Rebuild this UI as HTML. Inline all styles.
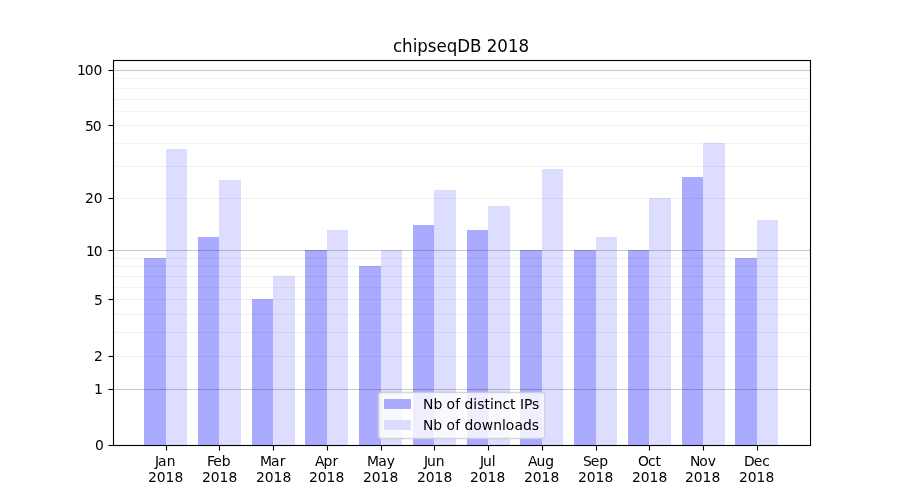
<!DOCTYPE html>
<html lang="en">
<head>
<meta charset="utf-8">
<title>chipseqDB 2018</title>
<style>
html,body{margin:0;padding:0;background:#fff;}
body{width:900px;height:500px;overflow:hidden;}
svg{display:block;}
text{font-family:"DejaVu Sans","Liberation Sans",sans-serif;font-size:13.889px;fill:#000;}
.t{font-size:16.667px;}
.c{text-anchor:middle;}
.r{text-anchor:end;}
</style>
</head>
<body>
<svg width="900" height="500" viewBox="0 0 900 500">
<rect x="0" y="0" width="900" height="500" fill="#ffffff"/>
<g shape-rendering="crispEdges">
<g fill="#0000ff" fill-opacity="0.3333">
<rect x="144" y="258" width="22" height="187"/>
<rect x="198" y="237" width="21" height="208"/>
<rect x="252" y="299" width="21" height="146"/>
<rect x="305" y="250" width="22" height="195"/>
<rect x="359" y="266" width="22" height="179"/>
<rect x="413" y="225" width="21" height="220"/>
<rect x="467" y="230" width="21" height="215"/>
<rect x="520" y="250" width="22" height="195"/>
<rect x="574" y="250" width="22" height="195"/>
<rect x="628" y="250" width="21" height="195"/>
<rect x="682" y="177" width="21" height="268"/>
<rect x="735" y="258" width="22" height="187"/>
</g>
<g fill="#0000ff" fill-opacity="0.1333">
<rect x="166" y="149" width="21" height="296"/>
<rect x="219" y="180" width="22" height="265"/>
<rect x="273" y="276" width="22" height="169"/>
<rect x="327" y="230" width="21" height="215"/>
<rect x="381" y="250" width="21" height="195"/>
<rect x="434" y="190" width="22" height="255"/>
<rect x="488" y="206" width="22" height="239"/>
<rect x="542" y="169" width="21" height="276"/>
<rect x="596" y="237" width="21" height="208"/>
<rect x="649" y="198" width="22" height="247"/>
<rect x="703" y="143" width="22" height="302"/>
<rect x="757" y="220" width="21" height="225"/>
</g>
<g fill="#000000">
<rect x="114" y="69" width="696" height="1" fill-opacity="0.012"/>
<rect x="114" y="70" width="696" height="1" fill-opacity="0.2"/>
<rect x="114" y="71" width="696" height="1" fill-opacity="0.012"/>
<rect x="114" y="78" width="696" height="1" fill-opacity="0.05"/>
<rect x="114" y="77" width="696" height="1" fill-opacity="0.003"/>
<rect x="114" y="79" width="696" height="1" fill-opacity="0.003"/>
<rect x="114" y="88" width="696" height="1" fill-opacity="0.05"/>
<rect x="114" y="87" width="696" height="1" fill-opacity="0.003"/>
<rect x="114" y="89" width="696" height="1" fill-opacity="0.003"/>
<rect x="114" y="99" width="696" height="1" fill-opacity="0.05"/>
<rect x="114" y="98" width="696" height="1" fill-opacity="0.003"/>
<rect x="114" y="100" width="696" height="1" fill-opacity="0.003"/>
<rect x="114" y="111" width="696" height="1" fill-opacity="0.05"/>
<rect x="114" y="110" width="696" height="1" fill-opacity="0.003"/>
<rect x="114" y="112" width="696" height="1" fill-opacity="0.003"/>
<rect x="114" y="125" width="696" height="1" fill-opacity="0.05"/>
<rect x="114" y="124" width="696" height="1" fill-opacity="0.003"/>
<rect x="114" y="126" width="696" height="1" fill-opacity="0.003"/>
<rect x="114" y="143" width="696" height="1" fill-opacity="0.05"/>
<rect x="114" y="142" width="696" height="1" fill-opacity="0.003"/>
<rect x="114" y="144" width="696" height="1" fill-opacity="0.003"/>
<rect x="114" y="166" width="696" height="1" fill-opacity="0.05"/>
<rect x="114" y="165" width="696" height="1" fill-opacity="0.003"/>
<rect x="114" y="167" width="696" height="1" fill-opacity="0.003"/>
<rect x="114" y="198" width="696" height="1" fill-opacity="0.05"/>
<rect x="114" y="197" width="696" height="1" fill-opacity="0.003"/>
<rect x="114" y="199" width="696" height="1" fill-opacity="0.003"/>
<rect x="114" y="249" width="696" height="1" fill-opacity="0.012"/>
<rect x="114" y="250" width="696" height="1" fill-opacity="0.2"/>
<rect x="114" y="251" width="696" height="1" fill-opacity="0.012"/>
<rect x="114" y="258" width="696" height="1" fill-opacity="0.05"/>
<rect x="114" y="257" width="696" height="1" fill-opacity="0.003"/>
<rect x="114" y="259" width="696" height="1" fill-opacity="0.003"/>
<rect x="114" y="266" width="696" height="1" fill-opacity="0.05"/>
<rect x="114" y="265" width="696" height="1" fill-opacity="0.003"/>
<rect x="114" y="267" width="696" height="1" fill-opacity="0.003"/>
<rect x="114" y="276" width="696" height="1" fill-opacity="0.05"/>
<rect x="114" y="275" width="696" height="1" fill-opacity="0.003"/>
<rect x="114" y="277" width="696" height="1" fill-opacity="0.003"/>
<rect x="114" y="287" width="696" height="1" fill-opacity="0.05"/>
<rect x="114" y="286" width="696" height="1" fill-opacity="0.003"/>
<rect x="114" y="288" width="696" height="1" fill-opacity="0.003"/>
<rect x="114" y="299" width="696" height="1" fill-opacity="0.05"/>
<rect x="114" y="298" width="696" height="1" fill-opacity="0.003"/>
<rect x="114" y="300" width="696" height="1" fill-opacity="0.003"/>
<rect x="114" y="314" width="696" height="1" fill-opacity="0.05"/>
<rect x="114" y="313" width="696" height="1" fill-opacity="0.003"/>
<rect x="114" y="315" width="696" height="1" fill-opacity="0.003"/>
<rect x="114" y="332" width="696" height="1" fill-opacity="0.05"/>
<rect x="114" y="331" width="696" height="1" fill-opacity="0.003"/>
<rect x="114" y="333" width="696" height="1" fill-opacity="0.003"/>
<rect x="114" y="356" width="696" height="1" fill-opacity="0.05"/>
<rect x="114" y="355" width="696" height="1" fill-opacity="0.003"/>
<rect x="114" y="357" width="696" height="1" fill-opacity="0.003"/>
<rect x="114" y="388" width="696" height="1" fill-opacity="0.012"/>
<rect x="114" y="389" width="696" height="1" fill-opacity="0.2"/>
<rect x="114" y="390" width="696" height="1" fill-opacity="0.012"/>
</g>
<g fill="#000000">
<rect x="109" y="445" width="4" height="1"/>
<rect x="108" y="445" width="1" height="1" fill-opacity="0.5"/>
<rect x="109" y="444" width="4" height="1" fill-opacity="0.055"/>
<rect x="109" y="446" width="4" height="1" fill-opacity="0.055"/>
<rect x="108" y="444" width="1" height="1" fill-opacity="0.027"/>
<rect x="108" y="446" width="1" height="1" fill-opacity="0.027"/>
<rect x="109" y="389" width="4" height="1"/>
<rect x="108" y="389" width="1" height="1" fill-opacity="0.5"/>
<rect x="109" y="388" width="4" height="1" fill-opacity="0.055"/>
<rect x="109" y="390" width="4" height="1" fill-opacity="0.055"/>
<rect x="108" y="388" width="1" height="1" fill-opacity="0.027"/>
<rect x="108" y="390" width="1" height="1" fill-opacity="0.027"/>
<rect x="109" y="356" width="4" height="1"/>
<rect x="108" y="356" width="1" height="1" fill-opacity="0.5"/>
<rect x="109" y="355" width="4" height="1" fill-opacity="0.055"/>
<rect x="109" y="357" width="4" height="1" fill-opacity="0.055"/>
<rect x="108" y="355" width="1" height="1" fill-opacity="0.027"/>
<rect x="108" y="357" width="1" height="1" fill-opacity="0.027"/>
<rect x="109" y="299" width="4" height="1"/>
<rect x="108" y="299" width="1" height="1" fill-opacity="0.5"/>
<rect x="109" y="298" width="4" height="1" fill-opacity="0.055"/>
<rect x="109" y="300" width="4" height="1" fill-opacity="0.055"/>
<rect x="108" y="298" width="1" height="1" fill-opacity="0.027"/>
<rect x="108" y="300" width="1" height="1" fill-opacity="0.027"/>
<rect x="109" y="250" width="4" height="1"/>
<rect x="108" y="250" width="1" height="1" fill-opacity="0.5"/>
<rect x="109" y="249" width="4" height="1" fill-opacity="0.055"/>
<rect x="109" y="251" width="4" height="1" fill-opacity="0.055"/>
<rect x="108" y="249" width="1" height="1" fill-opacity="0.027"/>
<rect x="108" y="251" width="1" height="1" fill-opacity="0.027"/>
<rect x="109" y="198" width="4" height="1"/>
<rect x="108" y="198" width="1" height="1" fill-opacity="0.5"/>
<rect x="109" y="197" width="4" height="1" fill-opacity="0.055"/>
<rect x="109" y="199" width="4" height="1" fill-opacity="0.055"/>
<rect x="108" y="197" width="1" height="1" fill-opacity="0.027"/>
<rect x="108" y="199" width="1" height="1" fill-opacity="0.027"/>
<rect x="109" y="125" width="4" height="1"/>
<rect x="108" y="125" width="1" height="1" fill-opacity="0.5"/>
<rect x="109" y="124" width="4" height="1" fill-opacity="0.055"/>
<rect x="109" y="126" width="4" height="1" fill-opacity="0.055"/>
<rect x="108" y="124" width="1" height="1" fill-opacity="0.027"/>
<rect x="108" y="126" width="1" height="1" fill-opacity="0.027"/>
<rect x="109" y="70" width="4" height="1"/>
<rect x="108" y="70" width="1" height="1" fill-opacity="0.5"/>
<rect x="109" y="69" width="4" height="1" fill-opacity="0.055"/>
<rect x="109" y="71" width="4" height="1" fill-opacity="0.055"/>
<rect x="108" y="69" width="1" height="1" fill-opacity="0.027"/>
<rect x="108" y="71" width="1" height="1" fill-opacity="0.027"/>
<rect x="166" y="446" width="1" height="4"/>
<rect x="166" y="450" width="1" height="1" fill-opacity="0.5"/>
<rect x="165" y="446" width="1" height="4" fill-opacity="0.055"/>
<rect x="167" y="446" width="1" height="4" fill-opacity="0.055"/>
<rect x="165" y="450" width="1" height="1" fill-opacity="0.027"/>
<rect x="167" y="450" width="1" height="1" fill-opacity="0.027"/>
<rect x="219" y="446" width="1" height="4"/>
<rect x="219" y="450" width="1" height="1" fill-opacity="0.5"/>
<rect x="218" y="446" width="1" height="4" fill-opacity="0.055"/>
<rect x="220" y="446" width="1" height="4" fill-opacity="0.055"/>
<rect x="218" y="450" width="1" height="1" fill-opacity="0.027"/>
<rect x="220" y="450" width="1" height="1" fill-opacity="0.027"/>
<rect x="273" y="446" width="1" height="4"/>
<rect x="273" y="450" width="1" height="1" fill-opacity="0.5"/>
<rect x="272" y="446" width="1" height="4" fill-opacity="0.055"/>
<rect x="274" y="446" width="1" height="4" fill-opacity="0.055"/>
<rect x="272" y="450" width="1" height="1" fill-opacity="0.027"/>
<rect x="274" y="450" width="1" height="1" fill-opacity="0.027"/>
<rect x="327" y="446" width="1" height="4"/>
<rect x="327" y="450" width="1" height="1" fill-opacity="0.5"/>
<rect x="326" y="446" width="1" height="4" fill-opacity="0.055"/>
<rect x="328" y="446" width="1" height="4" fill-opacity="0.055"/>
<rect x="326" y="450" width="1" height="1" fill-opacity="0.027"/>
<rect x="328" y="450" width="1" height="1" fill-opacity="0.027"/>
<rect x="381" y="446" width="1" height="4"/>
<rect x="381" y="450" width="1" height="1" fill-opacity="0.5"/>
<rect x="380" y="446" width="1" height="4" fill-opacity="0.055"/>
<rect x="382" y="446" width="1" height="4" fill-opacity="0.055"/>
<rect x="380" y="450" width="1" height="1" fill-opacity="0.027"/>
<rect x="382" y="450" width="1" height="1" fill-opacity="0.027"/>
<rect x="434" y="446" width="1" height="4"/>
<rect x="434" y="450" width="1" height="1" fill-opacity="0.5"/>
<rect x="433" y="446" width="1" height="4" fill-opacity="0.055"/>
<rect x="435" y="446" width="1" height="4" fill-opacity="0.055"/>
<rect x="433" y="450" width="1" height="1" fill-opacity="0.027"/>
<rect x="435" y="450" width="1" height="1" fill-opacity="0.027"/>
<rect x="488" y="446" width="1" height="4"/>
<rect x="488" y="450" width="1" height="1" fill-opacity="0.5"/>
<rect x="487" y="446" width="1" height="4" fill-opacity="0.055"/>
<rect x="489" y="446" width="1" height="4" fill-opacity="0.055"/>
<rect x="487" y="450" width="1" height="1" fill-opacity="0.027"/>
<rect x="489" y="450" width="1" height="1" fill-opacity="0.027"/>
<rect x="542" y="446" width="1" height="4"/>
<rect x="542" y="450" width="1" height="1" fill-opacity="0.5"/>
<rect x="541" y="446" width="1" height="4" fill-opacity="0.055"/>
<rect x="543" y="446" width="1" height="4" fill-opacity="0.055"/>
<rect x="541" y="450" width="1" height="1" fill-opacity="0.027"/>
<rect x="543" y="450" width="1" height="1" fill-opacity="0.027"/>
<rect x="596" y="446" width="1" height="4"/>
<rect x="596" y="450" width="1" height="1" fill-opacity="0.5"/>
<rect x="595" y="446" width="1" height="4" fill-opacity="0.055"/>
<rect x="597" y="446" width="1" height="4" fill-opacity="0.055"/>
<rect x="595" y="450" width="1" height="1" fill-opacity="0.027"/>
<rect x="597" y="450" width="1" height="1" fill-opacity="0.027"/>
<rect x="649" y="446" width="1" height="4"/>
<rect x="649" y="450" width="1" height="1" fill-opacity="0.5"/>
<rect x="648" y="446" width="1" height="4" fill-opacity="0.055"/>
<rect x="650" y="446" width="1" height="4" fill-opacity="0.055"/>
<rect x="648" y="450" width="1" height="1" fill-opacity="0.027"/>
<rect x="650" y="450" width="1" height="1" fill-opacity="0.027"/>
<rect x="703" y="446" width="1" height="4"/>
<rect x="703" y="450" width="1" height="1" fill-opacity="0.5"/>
<rect x="702" y="446" width="1" height="4" fill-opacity="0.055"/>
<rect x="704" y="446" width="1" height="4" fill-opacity="0.055"/>
<rect x="702" y="450" width="1" height="1" fill-opacity="0.027"/>
<rect x="704" y="450" width="1" height="1" fill-opacity="0.027"/>
<rect x="757" y="446" width="1" height="4"/>
<rect x="757" y="450" width="1" height="1" fill-opacity="0.5"/>
<rect x="756" y="446" width="1" height="4" fill-opacity="0.055"/>
<rect x="758" y="446" width="1" height="4" fill-opacity="0.055"/>
<rect x="756" y="450" width="1" height="1" fill-opacity="0.027"/>
<rect x="758" y="450" width="1" height="1" fill-opacity="0.027"/>
</g>
<g fill="#000000">
<rect x="113" y="60" width="1" height="386"/>
<rect x="810" y="60" width="1" height="386"/>
<rect x="113" y="60" width="698" height="1"/>
<rect x="113" y="445" width="698" height="1"/>
<rect x="112" y="60" width="1" height="386" fill-opacity="0.055"/>
<rect x="114" y="61" width="1" height="384" fill-opacity="0.055"/>
<rect x="809" y="61" width="1" height="384" fill-opacity="0.055"/>
<rect x="811" y="60" width="1" height="386" fill-opacity="0.055"/>
<rect x="113" y="59" width="698" height="1" fill-opacity="0.055"/>
<rect x="114" y="61" width="696" height="1" fill-opacity="0.055"/>
<rect x="114" y="444" width="696" height="1" fill-opacity="0.055"/>
<rect x="113" y="446" width="698" height="1" fill-opacity="0.055"/>
</g>
</g>
<text class="t" transform="translate(0,52) scale(1,1.07)" x="393 402 412.75 417.25 427.75 436.5 446.75 457.25 470 481.5 486.75 497.25 508 518.5" y="0">chipseqDB 2018</text>
<text x="95" y="450">0</text>
<text x="94" y="394">1</text>
<text x="94" y="361">2</text>
<text x="94" y="305">5</text>
<text x="86 93.75" y="256">10</text>
<text x="85 93.75" y="203">20</text>
<text x="85 92.75" y="131">50</text>
<text x="77 84.75 93.5" y="75">100</text>
<text x="155 158 166.75" y="466">Jan</text>
<text x="148 156.75 165.5 174.5" y="482">2018</text>
<text x="207 213.25 221.75" y="466">Feb</text>
<text x="202 210.75 219.5 228.5" y="482">2018</text>
<text x="260 271 279.75" y="466">Mar</text>
<text x="256 264.75 273.5 282.5" y="482">2018</text>
<text x="315 323.5 332.5" y="466">Apr</text>
<text x="309 317.75 326.5 335.5" y="482">2018</text>
<text x="367 378.25 386.75" y="466">May</text>
<text x="363 371.75 380.5 389.5" y="482">2018</text>
<text x="424 427 435.75" y="466">Jun</text>
<text x="417 425.75 434.5 443.5" y="482">2018</text>
<text x="480 483 491.75" y="466">Jul</text>
<text x="470 478.75 487.5 496.5" y="482">2018</text>
<text x="528 536.5 545.25" y="466">Aug</text>
<text x="524 532.75 541.5 550.5" y="482">2018</text>
<text x="583 590.75 599.25" y="466">Sep</text>
<text x="578 586.75 595.5 604.5" y="482">2018</text>
<text x="638 648 655.5" y="466">Oct</text>
<text x="632 640.75 649.5 658.5" y="482">2018</text>
<text x="690 699.25 707.75" y="466">Nov</text>
<text x="685 693.75 702.5 711.5" y="482">2018</text>
<text x="744 753.75 762.25" y="466">Dec</text>
<text x="739 747.75 756.5 765.5" y="482">2018</text>
<rect x="378.5" y="392.5" width="166" height="46" rx="2.8" ry="2.8" fill="#ffffff" fill-opacity="0.8" stroke="#cccccc" stroke-opacity="0.8" stroke-width="1.39"/>
<g shape-rendering="crispEdges"><rect x="384" y="399" width="27" height="10" fill="#aaaaff"/><rect x="384" y="420" width="27" height="10" fill="#ddddff"/></g>
<text x="423 433.5 442.25 446.5 455.25 460 464.5 473.25 477.25 484.5 490 493.75 502.5 510 515.5 520 524 532" y="409">Nb of distinct IPs</text>
<text x="423 433.25 442.25 446.5 455.25 460 464.5 473.25 481.75 493.25 502 505.75 514.5 523 531.75" y="430">Nb of downloads</text>
</svg>
</body>
</html>
